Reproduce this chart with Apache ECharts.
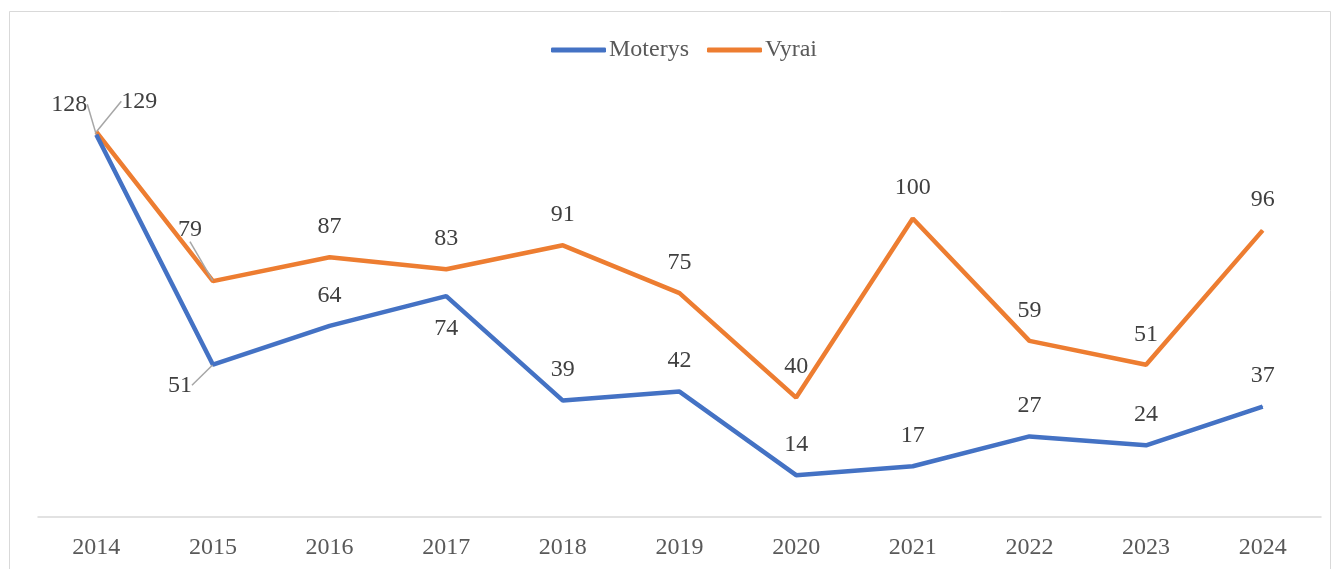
<!DOCTYPE html>
<html><head><meta charset="utf-8">
<script src="https://cdn.jsdelivr.net/npm/echarts@6/dist/echarts.min.js"></script>
<style>html,body{margin:0;padding:0;background:#fff}#c{width:1341px;height:569px}</style>
</head><body><div id="c"></div>
<script>
const years = ['2014','2015','2016','2017','2018','2019','2020','2021','2022','2023','2024'];
const moterys = [128, 51, 64, 74, 39, 42, 14, 17, 27, 24, 37];
const vyrai = [129, 79, 87, 83, 91, 75, 40, 100, 59, 51, 96];

const FONT = 'Liberation Serif';
const LBL = {fontFamily: FONT, fontSize: 24, color: '#404040'};
const guideStyle = {show: true, lineStyle: {color: '#a6a6a6', width: 1.5}};

// label shifts (dx, dy) from the default "top" placement
const motMove = {0: [-27, 0], 1: [-33, 51], 3: [0, 63]};
const motGuide = {0: true, 1: true};
const vyrMove = {0: [43, 0], 1: [-23, -21]};
const vyrGuide = {0: true, 1: true};

function build(values, guides) {
  return values.map((v, i) => {
    const d = {value: v};
    if (guides[i]) d.labelLine = guideStyle;
    return d;
  });
}
function layoutFn(moves) {
  return function (p) {
    const m = moves[p.dataIndex];
    return m ? {dx: m[0], dy: m[1]} : {};
  };
}

const chart = echarts.init(document.getElementById('c'), null, {renderer: 'canvas'});
chart.setOption({
  animation: false,
  backgroundColor: '#fff',
  graphic: [{type: 'rect', shape: {x: 9.5, y: 11.5, width: 1321, height: 600}, style: {fill: 'none', stroke: '#d9d9d9', lineWidth: 1}, silent: true}],
  legend: {
    top: 33, left: 546, itemWidth: 55, itemHeight: 5, itemGap: 18,
    icon: 'roundRect',
    textStyle: {fontFamily: FONT, fontSize: 24, color: '#595959', padding: [0, 0, 0, -2]},
    data: ['Moterys', 'Vyrai']
  },
  grid: {left: 38, right: 20, top: 99, bottom: 52},
  xAxis: {
    type: 'category', data: years, boundaryGap: true,
    axisLine: {lineStyle: {color: '#d9d9d9', width: 1.5}},
    axisTick: {show: false},
    axisLabel: {fontFamily: FONT, fontSize: 24, color: '#595959', margin: 19}
  },
  yAxis: {type: 'value', min: 0, max: 140, interval: 20, show: false, splitLine: {show: false}},
  series: [
    {
      name: 'Moterys', type: 'line', data: build(moterys, motGuide),
      color: '#4472C4', lineStyle: {width: 4.5, color: '#4472C4'},
      symbol: 'circle', symbolSize: 1, showSymbol: true,
      label: {show: true, position: 'top', distance: 18, ...LBL},
      labelLayout: layoutFn(motMove),
      z: 3
    },
    {
      name: 'Vyrai', type: 'line', data: build(vyrai, vyrGuide),
      color: '#ED7D31', lineStyle: {width: 4.5, color: '#ED7D31'},
      symbol: 'circle', symbolSize: 1, showSymbol: true,
      label: {show: true, position: 'top', distance: 18, ...LBL},
      labelLayout: layoutFn(vyrMove),
      z: 2
    }
  ]
});
</script></body></html>
